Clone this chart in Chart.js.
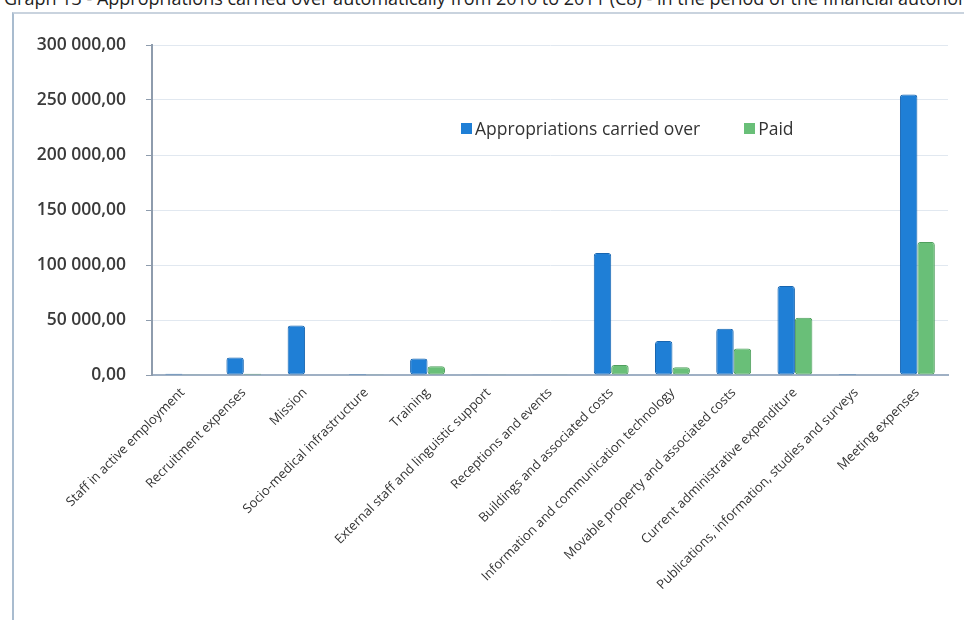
<!DOCTYPE html>
<html>
<head>
<meta charset="utf-8">
<script src="https://cdn.jsdelivr.net/npm/chart.js@4.4.1/dist/chart.umd.min.js"></script>
<style>
  html, body { margin: 0; padding: 0; background: #fff; }
  body { width: 964px; height: 620px; position: relative; overflow: hidden; font-family: 'Open Sans', sans-serif; }
  .title { position: absolute; left: 4px; top: -14px; font-size: 18px; color: #1e1e1e; white-space: nowrap; }
  .frame { position: absolute; left: 12px; top: 12px; width: 970px; height: 640px; border-left: 2px solid #a9bccf; border-top: 2px solid #c9d3de; }
  #wrap { position: absolute; left: 0; top: 0; width: 964px; height: 620px; }
  .legend { position: absolute; left: 461px; top: 116px; font-size: 17.5px; color: #333; display: flex; align-items: center; }
  .legend span.sw { display: inline-block; width: 11px; height: 11px; margin-right: 3px; }
</style>
</head>
<body>
<div class="title">Graph 13 - Appropriations carried over automatically from 2010 to 2011 (C8) - in the period of the financial autonomy</div>
<div class="frame"></div>
<div id="wrap"><canvas id="chart" width="964" height="620"></canvas></div>
<div class="legend">
  <span class="sw" style="background:#1f7fd6"></span>Appropriations carried over
  <span class="sw" style="background:#69bf78;margin-left:44px"></span>Paid
</div>
<script>
const categories = [
  'Staff in active employment',
  'Recruitment expenses',
  'Mission',
  'Socio-medical infrastructure',
  'Training',
  'External staff and linguistic support',
  'Receptions and events',
  'Buildings and associated costs',
  'Information and communication technology',
  'Movable property and associated costs',
  'Current administrative expenditure',
  'Publications, information, studies and surveys',
  'Meeting expenses'
]
const carriedOver = [1200, 16000, 45000, 800, 15000, 300, 300, 111000, 31000, 42000, 81000, 1000, 255000]
const paid = [600, 1200, 500, 600, 8000, 200, 200, 9000, 7000, 24000, 52000, 500, 121000]
const yTicks = [0, 50000, 100000, 150000, 200000, 250000, 300000]

const fmt = (v) => {
  const s = Math.round(v).toString().replace(/\B(?=(\d{3})+(?!\d))/g, ' ')
  return s + ',00'
}

new Chart(document.getElementById('chart'), {
  type: 'bar',
  data: {
    labels: categories,
    datasets: [
      {
        label: 'Appropriations carried over',
        data: carriedOver,
        backgroundColor: '#1f7fd6',
        borderColor: '#1765b0',
        borderWidth: 1,
        borderRadius: 3,
        borderSkipped: false,
      },
      {
        label: 'Paid',
        data: paid,
        backgroundColor: '#69bf78',
        borderColor: '#4f9f5d',
        borderWidth: 1,
        borderRadius: 3,
        borderSkipped: false,
      },
    ],
  },
  options: {
    responsive: false,
    animation: false,
    layout: { padding: { top: 45, right: 16, left: 0, bottom: 0 } },
    plugins: {
      legend: { display: false },
      tooltip: { enabled: false },
    },
    datasets: {
      bar: { categoryPercentage: 0.57, barPercentage: 1 },
    },
    scales: {
      x: {
        grid: { display: false, drawTicks: true },
        border: { color: '#9fb0c4', width: 2 },
        ticks: {
          minRotation: 45,
          maxRotation: 45,
          autoSkip: false,
          color: '#333',
          font: { family: "'Open Sans', sans-serif", size: 13 },
          padding: 2,
        },
        afterFit(scale) {
          scale.height = 245
        },
      },
      y: {
        min: 0,
        max: 300000,
        afterBuildTicks(scale) {
          scale.ticks = yTicks.map((v) => ({ value: v }))
        },
        grid: {
          color: '#e1e8f0',
          tickColor: '#8e9cad',
          tickLength: 6,
        },
        border: { color: '#8e9cad', width: 2 },
        ticks: {
          color: '#3a3a3a',
          padding: 20,
          font: { family: "'Open Sans', sans-serif", size: 17.5, weight: '600' },
          callback: (v) => fmt(v),
        },
        afterFit(scale) {
          scale.width = 152
        },
      },
    },
  },
})
</script>
</body>
</html>
